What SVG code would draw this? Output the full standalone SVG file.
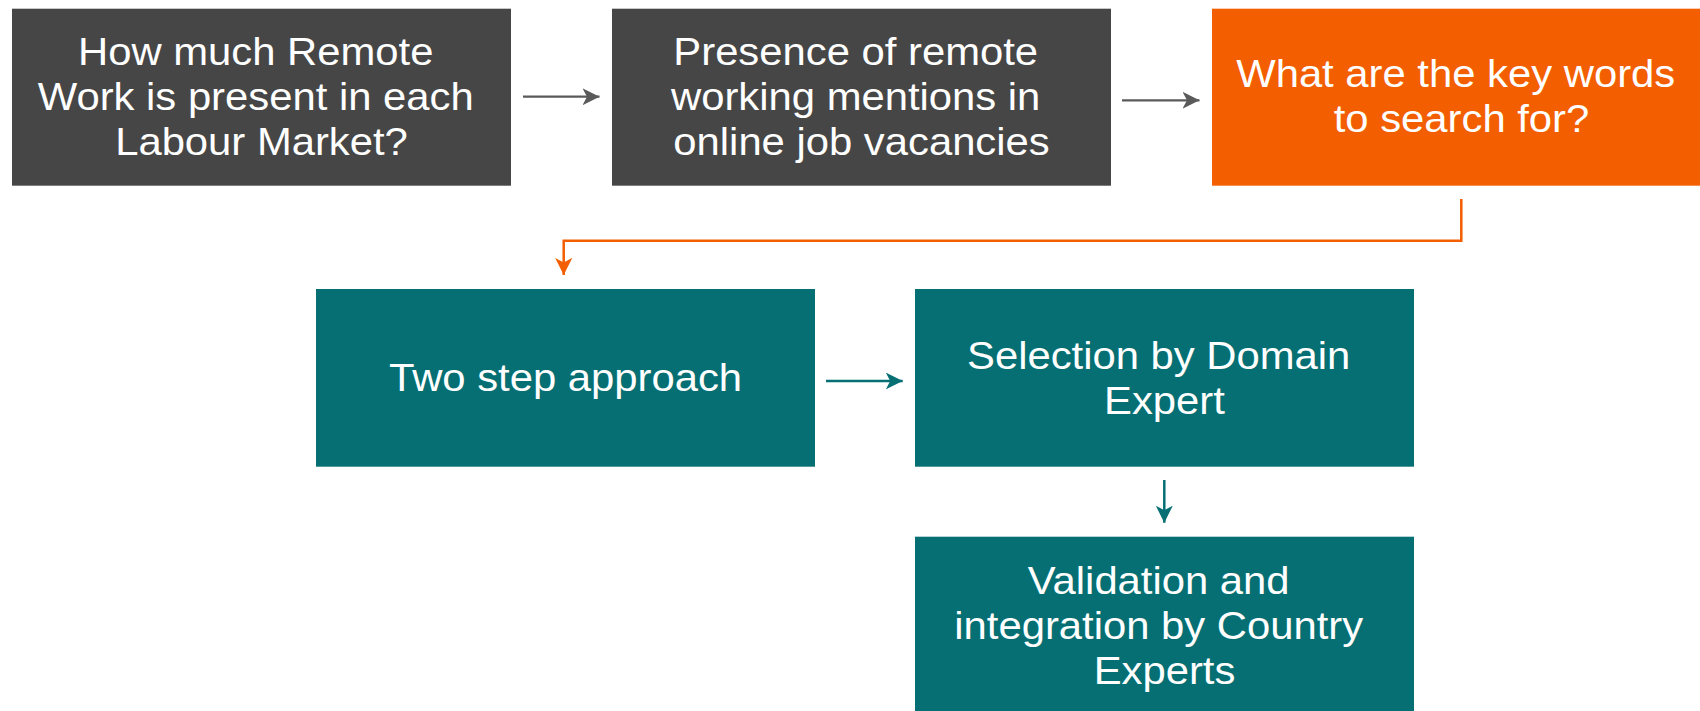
<svg xmlns="http://www.w3.org/2000/svg" width="1700" height="711" viewBox="0 0 1700 711">
  <style>
    .gray { fill: #464646; }
    .orange { fill: #F25E00; }
    .teal { fill: #066F73; }
    .lbl { font-family: "Liberation Sans", Arial, sans-serif; font-size: 38px; fill: #FFFFFF; text-anchor: middle; }
    .c-gray { stroke: #5A5A5A; stroke-width: 2.2; fill: none; }
    .c-orange { stroke: #F25E00; stroke-width: 2.5; fill: none; }
    .c-teal { stroke: #066F73; stroke-width: 2.5; fill: none; }
  </style>
  <defs>
    <marker id="ah-gray" viewBox="0 0 17 17" refX="17" refY="8.5" markerWidth="17" markerHeight="17" markerUnits="userSpaceOnUse" orient="auto">
      <path d="M0,0 L17,8.5 L0,17 L4.5,8.5 Z" fill="#5A5A5A"/>
    </marker>
    <marker id="ah-orange" viewBox="0 0 17 17" refX="17" refY="8.5" markerWidth="17" markerHeight="17" markerUnits="userSpaceOnUse" orient="auto">
      <path d="M0,0 L17,8.5 L0,17 L4.5,8.5 Z" fill="#F25E00"/>
    </marker>
    <marker id="ah-teal" viewBox="0 0 17 17" refX="17" refY="8.5" markerWidth="17" markerHeight="17" markerUnits="userSpaceOnUse" orient="auto">
      <path d="M0,0 L17,8.5 L0,17 L4.5,8.5 Z" fill="#066F73"/>
    </marker>
  </defs>
  <rect width="1700" height="711" fill="#FFFFFF"/>

  <g id="node-question">
    <rect class="gray" x="12" y="8.7" width="499" height="177"/>
    <text class="lbl" transform="translate(261.5,0) scale(1.1,1)">
      <tspan x="0" y="65.5">How much Remote</tspan>
      <tspan x="0" y="110.5">Work is present in each</tspan>
      <tspan x="0" y="155.5">Labour Market?</tspan>
    </text>
  </g>

  <g id="node-presence">
    <rect class="gray" x="612" y="8.7" width="499" height="177"/>
    <text class="lbl" transform="translate(861.5,0) scale(1.1,1)">
      <tspan x="0" y="65.5">Presence of remote</tspan>
      <tspan x="0" y="110.5">working mentions in</tspan>
      <tspan x="0" y="155.5">online job vacancies</tspan>
    </text>
  </g>

  <g id="node-keywords">
    <rect class="orange" x="1212" y="8.7" width="499" height="177"/>
    <text class="lbl" transform="translate(1461.5,0) scale(1.1,1)">
      <tspan x="0" y="87.5">What are the key words</tspan>
      <tspan x="0" y="132.5">to search for?</tspan>
    </text>
  </g>

  <g id="node-twostep">
    <rect class="teal" x="316" y="289" width="499" height="177.7"/>
    <text class="lbl" transform="translate(565.5,0) scale(1.1,1)">
      <tspan x="0" y="391.5">Two step approach</tspan>
    </text>
  </g>

  <g id="node-selection">
    <rect class="teal" x="915" y="289" width="499" height="177.7"/>
    <text class="lbl" transform="translate(1164.5,0) scale(1.1,1)">
      <tspan x="0" y="369">Selection by Domain</tspan>
      <tspan x="0" y="414">Expert</tspan>
    </text>
  </g>

  <g id="node-validation">
    <rect class="teal" x="915" y="536.7" width="499" height="178"/>
    <text class="lbl" transform="translate(1164.5,0) scale(1.1,1)">
      <tspan x="0" y="594.5">Validation and</tspan>
      <tspan x="0" y="639.5">integration by Country</tspan>
      <tspan x="0" y="684.5">Experts</tspan>
    </text>
  </g>

  <g id="connectors">
    <line class="c-gray" x1="523" y1="96.7" x2="599.5" y2="96.7" marker-end="url(#ah-gray)"/>
    <line class="c-gray" x1="1122" y1="100.3" x2="1199.5" y2="100.3" marker-end="url(#ah-gray)"/>
    <path class="c-orange" d="M1461.3,199 V240.7 H563.7 V275" marker-end="url(#ah-orange)"/>
    <line class="c-teal" x1="826" y1="381" x2="902.7" y2="381" marker-end="url(#ah-teal)"/>
    <line class="c-teal" x1="1164.3" y1="480" x2="1164.3" y2="522.7" marker-end="url(#ah-teal)"/>
  </g>
</svg>
